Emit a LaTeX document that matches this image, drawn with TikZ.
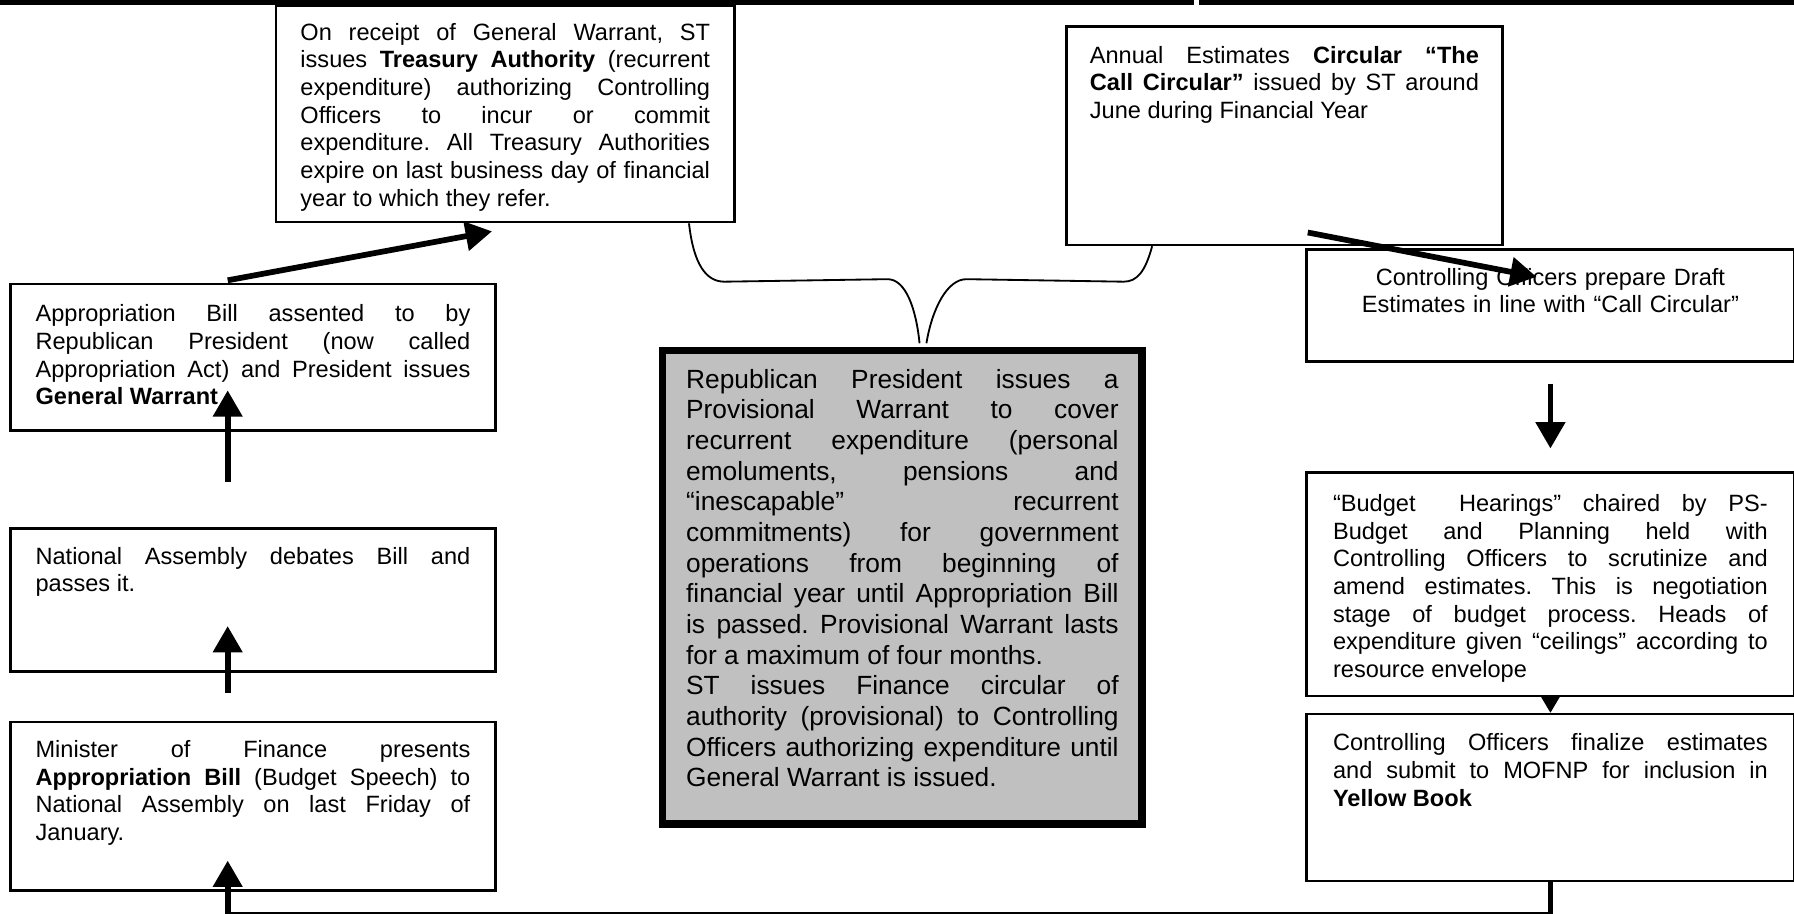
\documentclass[tikz,border=0pt]{standalone}
\usepackage{fontspec}
\setmainfont{Liberation Sans}
\usepackage{xcolor}
\usetikzlibrary{arrows.meta, calc}
\definecolor{panelgray}{RGB}{192,192,192}
\frenchspacing
\hyphenpenalty=10000
\exhyphenpenalty=10000
\tolerance=9999
\hbadness=10000

\tikzset{
  card/.style={draw, line width=1.1pt, anchor=north west, inner ysep=0pt,
    inner xsep=11pt, text width=190pt, align=justify,
    font=\fontsize{10.3pt}{12.1pt}\selectfont},
  flow/.style={line width=2.5pt, -{Triangle[width=12.5pt,length=11.5pt]}},
  brace/.style={line width=0.8pt}
}

\begin{document}
\begin{tikzpicture}[x=0.5pt,y=-0.5pt]
\useasboundingbox (0,0) rectangle (1568,798);
\fill (0,0) rectangle (1044,4.5);
\fill (1048,0) rectangle (1568,4.5);

% left column
\node[card, text height=16.5pt, text depth=47.5pt] (app) at (8,247)
  {Appropriation Bill assented to by\linebreak Republican President (now called\linebreak Appropriation Act) and President issues\linebreak \textbf{General Warrant}};
\node[card, text height=15.5pt, text depth=47pt] (na) at (8,461)
  {National Assembly debates Bill and\linebreak passes it.};
\node[card, text height=15.5pt, text depth=58pt] (min) at (8,630)
  {Minister of Finance presents\linebreak \textbf{Appropriation Bill} (Budget Speech) to\linebreak National Assembly on last Friday of\linebreak January.};

% top boxes
\node[card, text width=179pt, inner xsep=10.75pt, text height=15pt, text depth=79.5pt] (ta) at (240,4)
  {On receipt of General Warrant, ST\linebreak issues \textbf{Treasury Authority} (recurrent\linebreak expenditure) authorizing Controlling\linebreak Officers to incur or commit\linebreak expenditure. All Treasury Authorities\linebreak expire on last business day of financial\linebreak year to which they refer.};
\node[card, text width=170pt, inner xsep=10.25pt, text height=16pt, text depth=79.5pt] (call) at (931,22)
  {Annual Estimates \textbf{Circular “The\linebreak Call Circular”} issued by ST around\linebreak June during Financial Year};

% middle panel
\node[card, fill=panelgray, line width=3.2pt, text width=189pt, inner xsep=10.25pt,
  font=\fontsize{11.5pt}{13.4pt}\selectfont, text height=16.5pt, text depth=190.5pt] (gray) at (576,303)
  {Republican President issues a\linebreak Provisional Warrant to cover\linebreak recurrent expenditure (personal\linebreak emoluments, pensions and\linebreak “inescapable” recurrent\linebreak commitments) for government\linebreak operations from beginning of\linebreak financial year until Appropriation Bill\linebreak is passed. Provisional Warrant lasts\linebreak for a maximum of four months.\par
  ST issues Finance circular of\linebreak authority (provisional) to Controlling\linebreak Officers authorizing expenditure until\linebreak General Warrant is issued.};

% right column
\node[card, inner xsep=11.5pt, align=center, text height=15.5pt, text depth=33.5pt] (draft) at (1141,217)
  {Controlling Officers prepare Draft\\Estimates in line with “Call Circular”};
\node[card, inner xsep=11.5pt, text height=17pt, text depth=80.5pt] (budget) at (1141,412)
  {“Budget\ \ Hearings” chaired by PS-\linebreak Budget and Planning held with\linebreak Controlling Officers to scrutinize and\linebreak amend estimates. This is negotiation\linebreak stage of budget process. Heads of\linebreak expenditure given “ceilings” according to\linebreak resource envelope};
\node[card, inner xsep=11.5pt, text height=16pt, text depth=57pt] (fin) at (1141,623)
  {Controlling Officers finalize estimates\linebreak and submit to MOFNP for inclusion in\linebreak \textbf{Yellow Book}};

% brace from the two top boxes to the panel
\coordinate (bl) at ($(ta.south east)+(-41,0)$);
\coordinate (br) at ($(call.south west)+(76,0)$);
\coordinate (tipl) at ($(gray.north)+(15,-3)$);
\coordinate (tipr) at ($(gray.north)+(21,-3)$);
\draw[brace] (bl) .. controls +(4,36) and +(-16,0) .. ($(bl)+(31,51)$) -- ($(tipl)+(-28,-56)$) .. controls +(16,0) and +(-3,-30) .. (tipl);
\draw[brace] (br) .. controls +(-6,22) and +(12,0) .. ($(br)+(-25,31)$) -- ($(tipr)+(35,-56)$) .. controls +(-17,0) and +(5,-30) .. (tipr);

% arrows
\draw[flow] ($(app.north west)+(191,-2)$) -- ($(ta.south west)+(190,7)$);
\draw[flow] ($(na.north west)+(191,-40)$) -- ($(app.south west)+(191,-36)$);
\draw[flow] ($(min.north west)+(191,-24)$) -- ($(na.south west)+(191,-41)$);
\draw[flow] (fin.south) -- ++(0,28) -| ($(min.south west)+(191,-27)$);
\draw[flow] ($(draft.south)+(0,18)$) -- ($(budget.north)+(0,-20)$);
\draw[-{Triangle[width=8pt,length=7pt]}, line width=1pt] (budget.south) -- (fin.north);
\draw[flow] ($(call.south west)+(212,-12)$) -- ($(draft.north west)+(202,25)$);
\end{tikzpicture}
\end{document}
